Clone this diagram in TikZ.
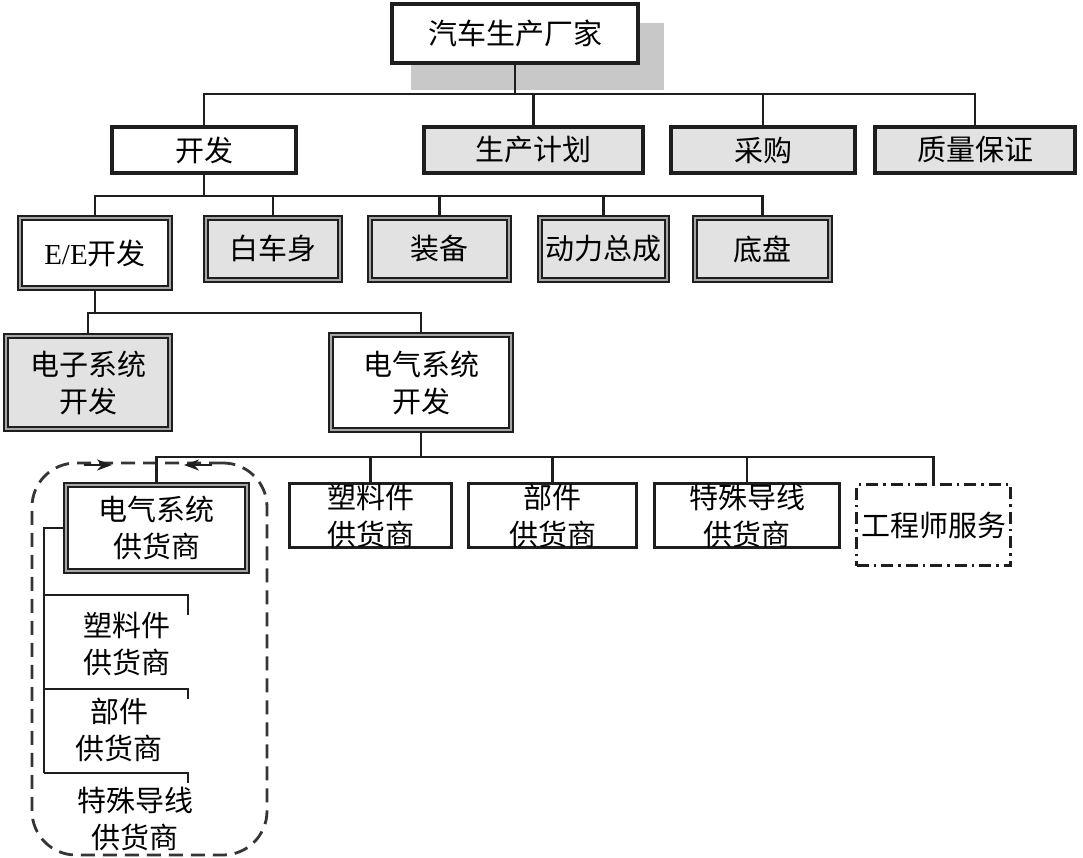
\documentclass[tikz,border=0pt]{standalone}
\usepackage{fontspec}
\setmainfont{Liberation Serif}
\newfontfamily\cjk{Noto Sans CJK SC}
\usetikzlibrary{arrows.meta,backgrounds,calc}
\definecolor{boxgray}{RGB}{226,226,226}
\definecolor{shadowgray}{RGB}{200,200,200}
\definecolor{ink}{RGB}{30,30,30}
\tikzset{
  base/.style={inner sep=0pt, align=center, font=\cjk\fontsize{29}{37}\selectfont, text=black},
  thickbox/.style={base, draw=ink, line width=4.2pt, fill=white},
  dblbox/.style={base, draw=ink, line width=2.2pt, double=gray!70, double distance=1.8pt, fill=white},
  thinbox/.style={base, draw=ink, line width=2.8pt, fill=white},
  ddbox/.style={base, draw=ink, line width=2.8pt, dash pattern=on 12pt off 5pt on 2.5pt off 5pt, fill=white},
  grayfill/.style={fill=boxgray},
  plain/.style={base},
  conn/.style={draw=ink, line width=2.8pt},
  grp/.style={draw=ink!90, line width=2.8pt, dash pattern=on 14pt off 8pt, rounded corners=44pt},
  arr/.style={draw=ink, line width=2.6pt, -{Stealth[length=15pt,width=11pt]}},
}
\begin{document}
\begin{tikzpicture}[x=1pt,y=-1pt]
\useasboundingbox (0,0) rectangle (1083,858);

% row 1
\node[thickbox, minimum width=245.8pt, minimum height=58.8pt] (top) at (515,33.5) {汽车生产厂家};
\begin{scope}[on background layer]
\fill[white] (0,0) rectangle (1083,858);
\fill[shadowgray] ($(top.north west)+(21,21)$) rectangle ($(top.south east)+(24,25)$);
\end{scope}

% row 2
\node[thickbox, minimum width=183.8pt, minimum height=45.8pt] (dev) at (204,150) {开发};
\node[thickbox, grayfill, minimum width=218.8pt, minimum height=45.8pt] (plan) at (533.5,150) {生产计划};
\node[thickbox, grayfill, minimum width=183.8pt, minimum height=45.8pt] (buy) at (763,150) {采购};
\node[thickbox, grayfill, minimum width=199.8pt, minimum height=45.8pt] (qa) at (975,150) {质量保证};

% row 3
\node[dblbox, minimum width=150pt, minimum height=70pt] (ee) at (95,253) {{\rmfamily E/E}开发};
\node[dblbox, grayfill, minimum width=134pt, minimum height=62pt] (body) at (273,249) {白车身};
\node[dblbox, grayfill, minimum width=139pt, minimum height=62pt] (equip) at (439.5,249) {装备};
\node[dblbox, grayfill, minimum width=127pt, minimum height=62pt] (power) at (603.5,249) {动力总成};
\node[dblbox, grayfill, minimum width=135pt, minimum height=62pt] (chassis) at (762.5,249) {底盘};

% row 4
\node[dblbox, grayfill, minimum width=164pt, minimum height=93pt] (edev) at (88,382.5) {电子系统\\开发};
\node[dblbox, minimum width=180pt, minimum height=95pt] (eldev) at (421,382.5) {电气系统\\开发};

% group
\node[grp, minimum width=235pt, minimum height=392pt] (group) at (149.5,659) {};

% row 5
\node[dblbox, minimum width=181pt, minimum height=86pt] (sup) at (156.5,528) {电气系统\\供货商};
\node[thinbox, minimum width=162pt, minimum height=64pt] (plastic) at (370.5,515.5) {塑料件\\供货商};
\node[thinbox, minimum width=168pt, minimum height=64pt] (parts) at (552.5,515.5) {部件\\供货商};
\node[thinbox, minimum width=185pt, minimum height=64pt] (wire) at (747,515.5) {特殊导线\\供货商};
\node[ddbox, minimum width=154pt, minimum height=81pt] (eng) at (933.5,525) {工程师服务};

% left list
\node[plain] (lp) at (127,644) {塑料件\\供货商};
\node[plain] (lc) at (119,730) {部件\\供货商};
\node[plain] (lw) at (135,819) {特殊导线\\供货商};

% buses
\coordinate (bus1) at (0,94);
\coordinate (bus2) at (0,196);
\coordinate (bus3) at (0,313);
\coordinate (bus4) at (0,457);

\draw[conn] (top.south) -- (top.south |- bus1);
\draw[conn] (dev.north) -- (dev.north |- bus1) -- (qa.north |- bus1) -- (qa.north);
\draw[conn] (plan.north) -- (plan.north |- bus1);
\draw[conn] (buy.north) -- (buy.north |- bus1);

\draw[conn] (dev.south) -- (dev.south |- bus2);
\draw[conn] (ee.north) -- (ee.north |- bus2) -- (chassis.north |- bus2) -- (chassis.north);
\draw[conn] (body.north) -- (body.north |- bus2);
\draw[conn] (equip.north) -- (equip.north |- bus2);
\draw[conn] (power.north) -- (power.north |- bus2);

\draw[conn] (ee.south) -- (ee.south |- bus3);
\draw[conn] (edev.north) -- (edev.north |- bus3) -- (eldev.north |- bus3) -- (eldev.north);

\draw[conn] (eldev.south) -- (eldev.south |- bus4);
\draw[conn] (sup.north) -- (sup.north |- bus4) -- (eng.north |- bus4) -- (eng.north);
\draw[conn] (plastic.north) -- (plastic.north |- bus4);
\draw[conn] (parts.north) -- (parts.north |- bus4);
\draw[conn] (wire.north) -- (wire.north |- bus4);

% left bracket tree
\coordinate (t0) at (44,528);
\coordinate (b1) at (44,595);
\coordinate (b2) at (44,689);
\coordinate (b3) at (44,773);
\draw[conn] (sup.west) -- (t0) -- (b3);
\draw[conn] (b1) -- (188,595) -- (188,615);
\draw[conn] (b2) -- (188,689) -- (188,699);
\draw[conn] (b3) -- (188,773) -- (188,783);

% arrows on group edge
\coordinate (a1s) at (84,465);
\coordinate (a1e) at (112,465);
\coordinate (a2s) at (212,465);
\coordinate (a2e) at (184,465);
\draw[arr] (a1s) -- (a1e);
\draw[arr] (a2s) -- (a2e);
\end{tikzpicture}
\end{document}
